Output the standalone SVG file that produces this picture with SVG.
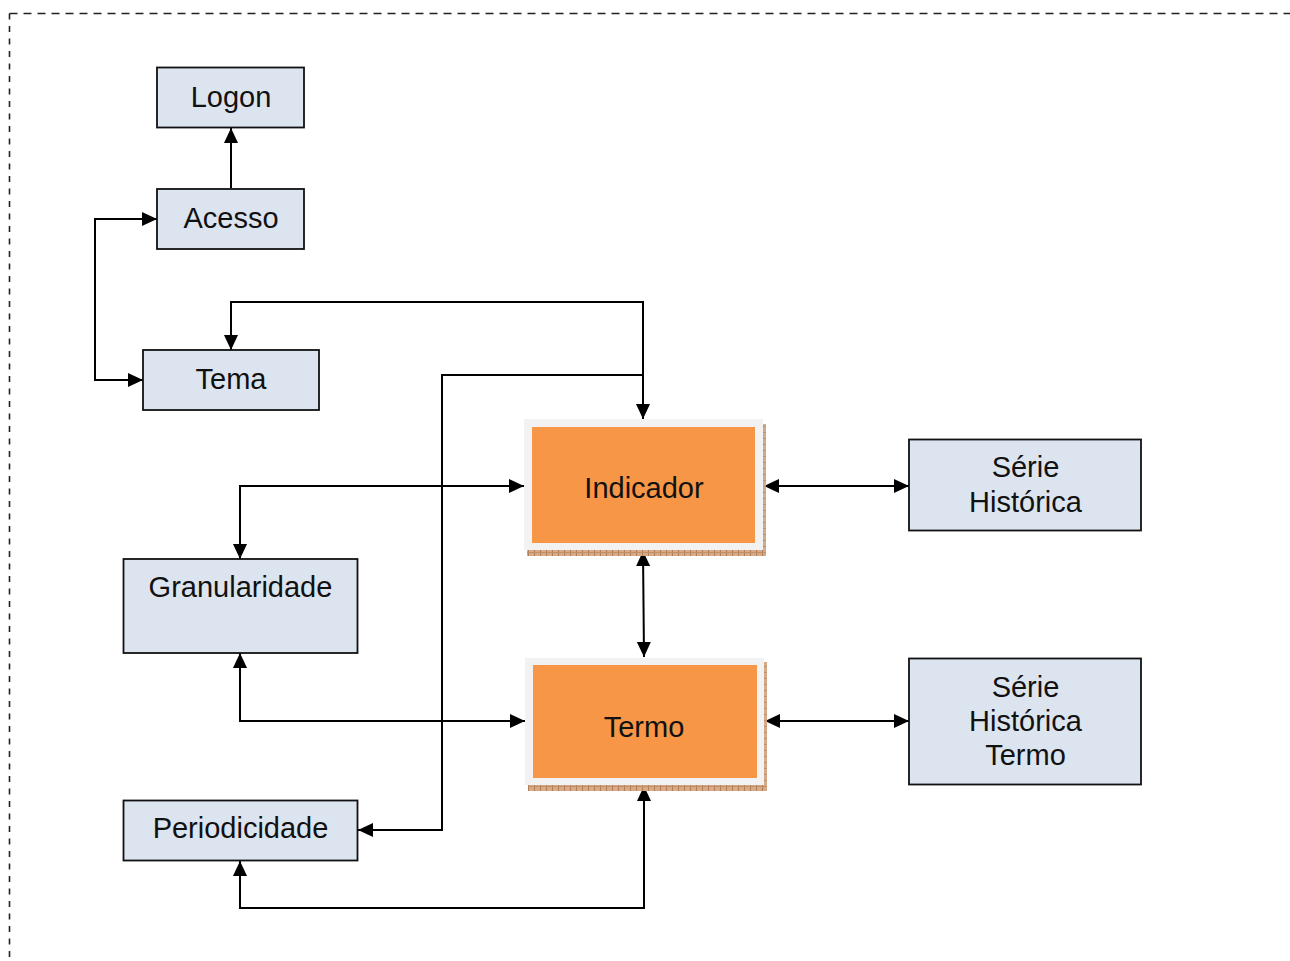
<svg xmlns="http://www.w3.org/2000/svg" width="1290" height="961" viewBox="0 0 1290 961">
  <defs>
    <style>
      .box { fill: #dce4f0; stroke: #111; stroke-width: 1.8; }
      .frame { fill: #f2f2f2; }
      .core { fill: #f79646; }
      .shadow { fill: url(#hatch); }
      .label { font-family: "Liberation Sans", Arial, sans-serif; font-size: 29px; fill: #111; text-anchor: middle; }
      .wire { fill: none; stroke: #000; stroke-width: 2; }
      .two { marker-start: url(#head); marker-end: url(#head); }
      .one { marker-end: url(#head); }
      .first { marker-start: url(#head); }
      .edge { stroke: #222; stroke-width: 1.6; fill: none; }
    </style>
    <marker id="head" markerUnits="userSpaceOnUse" markerWidth="16" markerHeight="16" refX="15" refY="7" orient="auto-start-reverse">
      <path d="M0,0 L15,7 L0,14 z" fill="#000"/>
    </marker>
    <pattern id="hatch" patternUnits="userSpaceOnUse" width="6" height="6">
      <rect width="6" height="6" fill="#d4ab8a"/>
      <rect x="0" y="0" width="1" height="6" fill="#b77c52"/>
      <rect x="0" y="0" width="6" height="1" fill="#c58f66"/>
    </pattern>
  </defs>

  <!-- dashed outer boundary -->
  <line class="edge" x1="9.5" y1="13.5" x2="1290" y2="13.5" stroke-dasharray="8 6"/>
  <line class="edge" x1="9.5" y1="13.5" x2="9.5" y2="961" stroke-dasharray="6 6.5"/>

  <!-- connectors -->
  <g id="connectors">
    <path class="wire one" d="M231,188 V128"/>
    <path class="wire two" d="M157,219 H95 V380 H143"/>
    <path class="wire two" d="M231,350 V302 H643 V419"/>
    <path class="wire first" d="M358,830 H442 V375 H643"/>
    <path class="wire two" d="M240,559 V486 H524"/>
    <path class="wire two" d="M240,653 V721 H525"/>
    <path class="wire two" d="M643,551 L644,657"/>
    <path class="wire two" d="M764,486 H909"/>
    <path class="wire two" d="M765,721 H909"/>
    <path class="wire two" d="M240,861 V908 H644 V786"/>
  </g>

  <g id="logon">
    <rect class="box" x="157" y="67.5" width="147" height="60"/>
    <text class="label" x="231" y="107">Logon</text>
  </g>
  <g id="acesso">
    <rect class="box" x="157" y="189" width="147" height="60"/>
    <text class="label" x="231" y="228">Acesso</text>
  </g>
  <g id="tema">
    <rect class="box" x="143" y="350" width="176" height="60"/>
    <text class="label" x="231" y="389">Tema</text>
  </g>
  <g id="granularidade">
    <rect class="box" x="123.5" y="559" width="234" height="94"/>
    <text class="label" x="240.5" y="597">Granularidade</text>
  </g>
  <g id="periodicidade">
    <rect class="box" x="123.5" y="800.5" width="234" height="60"/>
    <text class="label" x="240.5" y="838">Periodicidade</text>
  </g>
  <g id="indicador">
    <rect class="shadow" x="527" y="424" width="239" height="132"/>
    <rect class="frame" x="524" y="419" width="239" height="131"/>
    <rect class="core" x="532" y="427" width="223" height="116"/>
    <text class="label" x="644" y="498">Indicador</text>
  </g>
  <g id="termo">
    <rect class="shadow" x="528" y="662" width="239" height="129"/>
    <rect class="frame" x="525" y="658" width="239" height="127"/>
    <rect class="core" x="533" y="665" width="224" height="113"/>
    <text class="label" x="644" y="737">Termo</text>
  </g>
  <g id="serie-historica">
    <rect class="box" x="909" y="439.5" width="232" height="91"/>
    <text class="label" x="1025.5" y="477">Série</text>
    <text class="label" x="1025.5" y="512">Histórica</text>
  </g>
  <g id="serie-historica-termo">
    <rect class="box" x="909" y="658.5" width="232" height="126"/>
    <text class="label" x="1025.5" y="697">Série</text>
    <text class="label" x="1025.5" y="731">Histórica</text>
    <text class="label" x="1025.5" y="765">Termo</text>
  </g>
</svg>
